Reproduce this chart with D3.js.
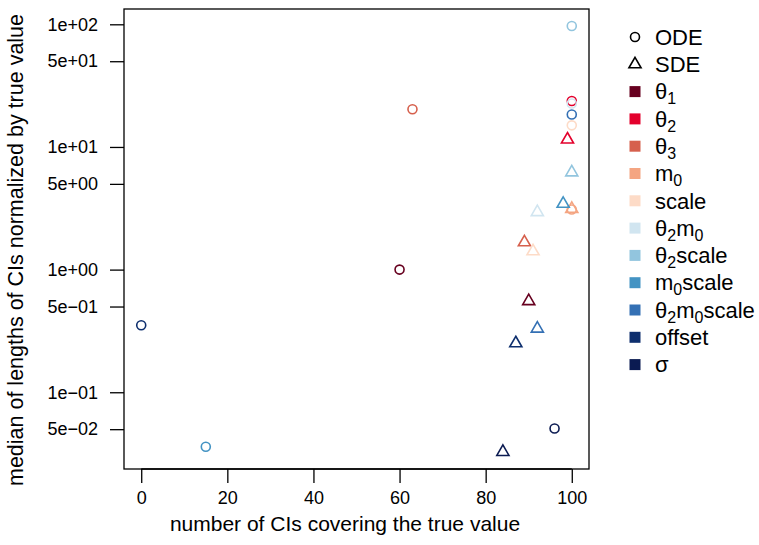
<!DOCTYPE html>
<html>
<head>
<meta charset="utf-8">
<script src="https://cdn.jsdelivr.net/npm/d3@7"></script>
<style>
  body { margin: 0; background: #fff; }
  svg { font-family: "Liberation Sans", Arial, sans-serif; }
</style>
</head>
<body>
<svg width="759" height="545"></svg>
<script>
// parameters ("_x" = subscript x) and their colours
var params = ["θ_1", "θ_2", "θ_3", "m_0", "scale", "θ_2m_0", "θ_2scale", "m_0scale", "θ_2m_0scale", "offset", "σ"];
var colors = ["#67001F", "#E3002C", "#D6604D", "#F4A582", "#FDDBC7", "#D1E5F0", "#92C5DE", "#4393C3", "#3470B4", "#0E2F6E", "#0B1B52"];

// ODE fits: number of CIs covering the true value, median CI length / true value
var odeCover  = [60, 100, 63, 100, 100, 100, 100, 15, 100, 0, 96];
var odeLength = [1.0, 23.7, 20.3, 3.09, 15.0, 22.6, 96.8, 0.036, 18.4, 0.352, 0.0507];

// SDE fits
var sdeCover  = [90, 99, 89, 100, 91, 92, 100, 98, 92, 87, 84];
var sdeLength = [0.553, 11.5, 1.67, 3.13, 1.41, 2.94, 6.2, 3.44, 0.33, 0.251, 0.0326];

var xTicks = [0, 20, 40, 60, 80, 100];
var yTicks = [100, 50, 10, 5, 1, 0.5, 0.1, 0.05];

var svg = d3.select("svg");
var pLeft = 124, pRight = 589, pTop = 9, pBottom = 469;

// R style 4% padding of the data range
var allX = odeCover.concat(sdeCover), allY = odeLength.concat(sdeLength);
var xr = d3.extent(allX), xp = (xr[1] - xr[0]) * 0.04;
var x = d3.scaleLinear().domain([xr[0] - xp, xr[1] + xp]).range([pLeft, pRight]);
var lyr = d3.extent(allY).map(Math.log10), yp = (lyr[1] - lyr[0]) * 0.04;
var y = d3.scaleLog().domain([Math.pow(10, lyr[0] - yp), Math.pow(10, lyr[1] + yp)]).range([pBottom, pTop]);

function rFormat(v) {
  var e = Math.floor(Math.log10(v) + 1e-9);
  var m = Math.round(v / Math.pow(10, e));
  return m + "e" + (e < 0 ? "\u2212" : "+") + d3.format("02")(Math.abs(e));
}

// axes
var xAxis = d3.axisBottom(x).tickValues(xTicks).tickSize(14).tickPadding(8).tickSizeOuter(0);
var gx = svg.append("g").attr("transform", "translate(0," + pBottom + ")").call(xAxis);
gx.select(".domain").attr("d", "M" + x(xTicks[0]) + ",0H" + x(xTicks[xTicks.length - 1]));

var yAxis = d3.axisLeft(y).tickValues(yTicks).tickFormat(rFormat).tickSize(14).tickPadding(12).tickSizeOuter(0);
var gy = svg.append("g").attr("transform", "translate(" + pLeft + ",0)").call(yAxis);
gy.select(".domain").remove();

svg.selectAll(".tick text").attr("font-size", 18).attr("fill", "#000")
  .attr("font-family", "'Liberation Sans', Arial, sans-serif");
svg.selectAll(".tick line, .domain").attr("stroke", "#000").attr("stroke-width", 1.3);

svg.append("rect")
  .attr("x", pLeft).attr("y", pTop)
  .attr("width", pRight - pLeft).attr("height", pBottom - pTop)
  .attr("fill", "none").attr("stroke", "#000").attr("stroke-width", 1.3);

// axis titles
svg.append("text")
  .attr("x", 345).attr("y", 531)
  .attr("text-anchor", "middle").attr("font-size", 21)
  .text("number of CIs covering the true value");
svg.append("text")
  .attr("transform", "translate(23,250) rotate(-90)")
  .attr("text-anchor", "middle").attr("font-size", 21.5)
  .text("median of lengths of CIs normalized by true value");

// point glyphs
var R0 = 4.5;
function trianglePath(cx, cy, s) {
  var p = d3.path();
  p.moveTo(cx, cy - 1.555 * s);
  p.lineTo(cx + 1.347 * s, cy + 0.778 * s);
  p.lineTo(cx - 1.347 * s, cy + 0.778 * s);
  p.closePath();
  return p.toString();
}

var pts = svg.append("g").attr("fill", "none").attr("stroke-width", 1.6);
pts.selectAll("circle")
  .data(params)
  .enter().append("circle")
    .attr("cx", function (d, i) { return x(odeCover[i]); })
    .attr("cy", function (d, i) { return y(odeLength[i]); })
    .attr("r", R0)
    .attr("stroke", function (d, i) { return colors[i]; });
pts.selectAll("path")
  .data(params)
  .enter().append("path")
    .attr("d", function (d, i) { return trianglePath(x(sdeCover[i]), y(sdeLength[i]), R0); })
    .attr("stroke", function (d, i) { return colors[i]; });

// legend
var lx = 635, ly0 = 37, lstep = 27.3;
var leg = svg.append("g");

// "_x" -> subscript x, baseline shift carried to the next piece
function addLabel(row, str) {
  var t = leg.append("text")
    .attr("x", lx + 20).attr("y", ly0 + row * lstep + 7.7)
    .attr("font-size", 22);
  var parts = str.split(/(_.)/).filter(function (s) { return s; });
  var shift = 0;
  parts.forEach(function (s) {
    if (s[0] === "_") {
      t.append("tspan").attr("font-size", 16).attr("dy", 5 - shift).text(s[1]);
      shift = 5;
    } else {
      t.append("tspan").attr("dy", -shift).text(s);
      shift = 0;
    }
  });
}

leg.append("circle").attr("cx", lx).attr("cy", ly0).attr("r", R0)
  .attr("fill", "none").attr("stroke", "#000").attr("stroke-width", 1.6);
addLabel(0, "ODE");
leg.append("path").attr("d", trianglePath(lx, ly0 + lstep, R0))
  .attr("fill", "none").attr("stroke", "#000").attr("stroke-width", 1.6);
addLabel(1, "SDE");

params.forEach(function (p, i) {
  leg.append("rect")
    .attr("x", lx - 5.5).attr("y", ly0 + (i + 2) * lstep - 5.5)
    .attr("width", 11).attr("height", 11)
    .attr("fill", colors[i]);
  addLabel(i + 2, p);
});
</script>
</body>
</html>
